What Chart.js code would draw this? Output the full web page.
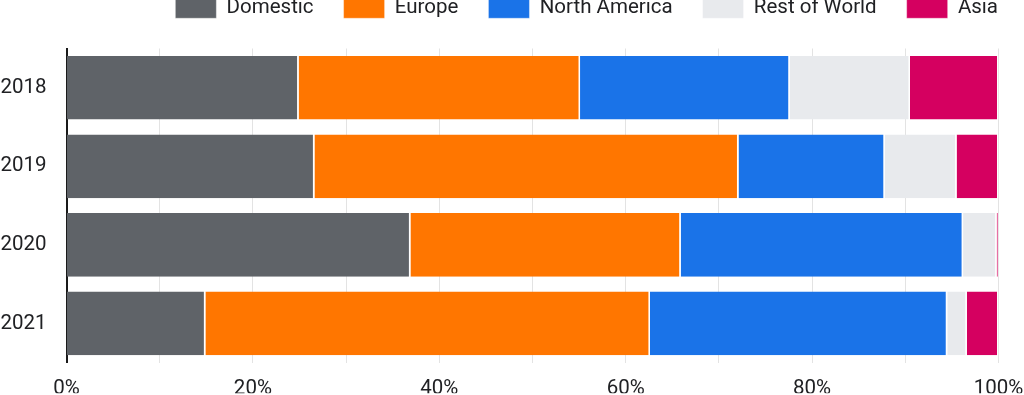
<!DOCTYPE html>
<html>
<head>
<meta charset="utf-8">
<script src="https://cdn.jsdelivr.net/npm/chart.js@4"></script>
<style>
  html, body { margin: 0; padding: 0; background: #fff; }
  #wrap { width: 1024px; height: 395px; position: relative; }
</style>
</head>
<body>
<div id="wrap"><canvas id="c"></canvas></div>
<script>
const years = ['2018', '2019', '2020', '2021'];
const seriesNames = ['Domestic', 'Europe', 'North America', 'Rest of World', 'Asia'];
const domestic     = [24.9, 26.6, 36.9, 14.9];
const europe       = [30.2, 45.5, 29.0, 47.7];
const northAmerica = [22.5, 15.7, 30.3, 31.9];
const restOfWorld  = [12.9,  7.7,  3.6,  2.1];
const asia         = [ 9.5,  4.5,  0.2,  3.4];
const xTickValues  = [0, 20, 40, 60, 80, 100];

const colors = ['#5f6368', '#ff7600', '#1a73e8', '#e8eaed', '#d50060'];
const seriesData = [domestic, europe, northAmerica, restOfWorld, asia];

const FONT = 'Roboto';
const FS = 20.5;

const legendHeightPlugin = {
  id: 'legendHeight',
  beforeLayout(chart) {
    const lg = chart.legend;
    if (lg && !lg._wrapped) {
      const orig = lg.fit;
      lg.fit = function () { orig.call(this); this.height = 80.5; };
      lg._wrapped = true;
    }
  }
};

new Chart(document.getElementById('c'), {
  type: 'bar',
  data: {
    labels: years,
    datasets: seriesNames.map((name, i) => ({
      label: name,
      data: seriesData[i],
      backgroundColor: colors[i],
      borderColor: '#ffffff',
      borderWidth: { left: 0, right: 1.5, top: 0, bottom: 0 },
      borderSkipped: false,
      barPercentage: 0.81,
      categoryPercentage: 1.0
    }))
  },
  options: {
    indexAxis: 'y',
    responsive: true,
    maintainAspectRatio: false,
    animation: false,
    layout: { padding: { top: -32, left: 0, right: -4, bottom: 0 } },
    plugins: {
      legend: {
        position: 'top',
        align: 'end',
        labels: {
          boxWidth: 41,
          boxHeight: 20,
          padding: 30,
          color: '#202124',
          font: { family: FONT, size: FS }
        }
      },
      tooltip: { enabled: false }
    },
    scales: {
      x: {
        stacked: true,
        min: 0,
        max: 100,
        afterBuildTicks(scale) {
          const t = [];
          for (let v = 0; v <= 100; v += 10) t.push({ value: v });
          scale.ticks = t;
        },
        afterFit(scale) { scale.height = 30.5; scale.paddingRight = 25.5; },
        ticks: {
          autoSkip: false,
          maxRotation: 0,
          padding: 14,
          color: '#202124',
          font: { family: FONT, size: FS },
          callback: (v) => xTickValues.includes(v) ? v + '%' : ''
        },
        grid: { color: '#e3e3e3', lineWidth: 1, drawTicks: false },
        border: { display: false }
      },
      y: {
        stacked: true,
        afterFit(scale) { scale.width = 66.5; },
        ticks: {
          padding: 20,
          color: '#202124',
          font: { family: FONT, size: FS }
        },
        grid: { display: false, drawTicks: false },
        border: { display: true, color: '#1a1a1a', width: 2 }
      }
    }
  },
  plugins: [legendHeightPlugin]
});
</script>
</body>
</html>
